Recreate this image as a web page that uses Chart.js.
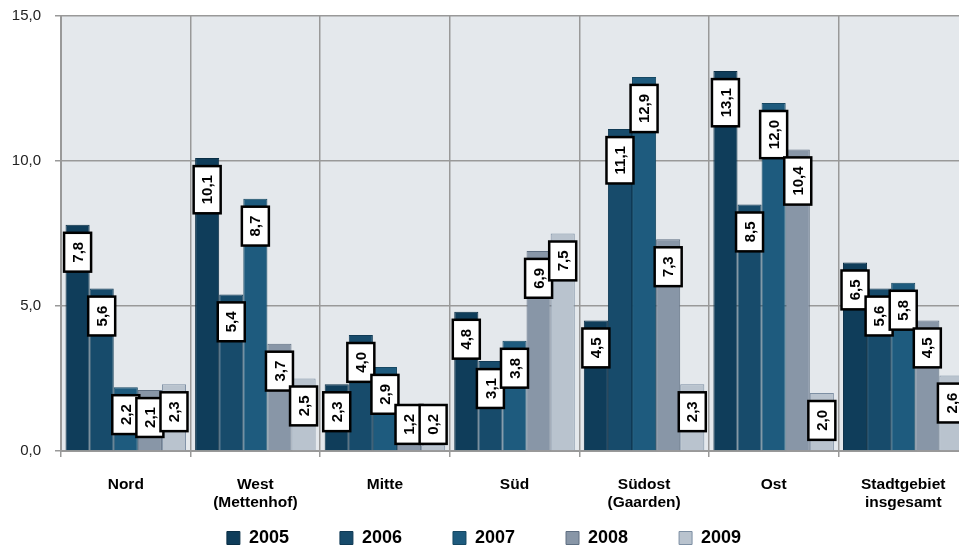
<!DOCTYPE html>
<html>
<head>
<meta charset="utf-8">
<script src="https://cdn.jsdelivr.net/npm/chart.js@4"></script>
<style>
  html,body{margin:0;padding:0;background:#fff;}
  #wrap{width:959px;height:546px;overflow:hidden;}
</style>
</head>
<body>
<div id="wrap"><canvas id="c" width="968" height="557"></canvas></div>
<script>
// --- Daten ---
const categories = [['Nord'], ['West','(Mettenhof)'], ['Mitte'], ['Süd'], ['Südost','(Gaarden)'], ['Ost'], ['Stadtgebiet','insgesamt']];
const years = ['2005','2006','2007','2008','2009'];
const v2005 = [7.8, 10.1, 2.3, 4.8, 4.5, 13.1, 6.5];
const v2006 = [5.6, 5.4, 4.0, 3.1, 11.1, 8.5, 5.6];
const v2007 = [2.2, 8.7, 2.9, 3.8, 12.9, 12.0, 5.8];
const v2008 = [2.1, 3.7, 1.2, 6.9, 7.3, 10.4, 4.5];
const v2009 = [2.3, 2.5, 0.2, 7.5, 2.3, 2.0, 2.6];
const yTicks = [0, 5, 10, 15];

const colors = ['#0f3d5a','#174b6b','#1e5b7e','#8896a7','#b9c3ce'];
const borders = ['#0a2e45','#103a55','#164863','#5f6f82','#7d8fa3'];
const series = [v2005, v2006, v2007, v2008, v2009];

const fmt = v => v.toFixed(1).replace('.', ',');

// Hintergrund der Zeichenfläche
const plotBg = {
  id:'plotBg',
  beforeDraw(chart){
    const {ctx, chartArea:a} = chart;
    ctx.save();
    ctx.fillStyle = '#e4e8ec';
    ctx.fillRect(a.left, a.top, a.right-a.left, a.bottom-a.top);
    ctx.restore();
  }
};

// Wertelabels: weiße Kästchen, Text senkrecht
const boxLabels = {
  id:'boxLabels',
  afterDatasetsDraw(chart){
    const ctx = chart.ctx;
    ctx.save();
    ctx.font = 'bold 15px "Liberation Sans", Arial, sans-serif';
    chart.data.datasets.forEach((ds, di) => {
      chart.getDatasetMeta(di).data.forEach((bar, i) => {
        const txt = fmt(ds.data[i]);
        const tw = ctx.measureText(txt).width;
        const w = 27, h = tw + 18;
        let top = Math.min(bar.y + 8, 405);
        const left = bar.x - w/2;
        ctx.fillStyle = '#fff';
        ctx.fillRect(left, top, w, h);
        ctx.lineWidth = 2.5;
        ctx.strokeStyle = '#000';
        ctx.strokeRect(left, top, w, h);
        ctx.save();
        ctx.translate(bar.x + 1, top + h/2);
        ctx.rotate(-Math.PI/2);
        ctx.fillStyle = '#000';
        ctx.textAlign = 'center';
        ctx.textBaseline = 'middle';
        ctx.fillText(txt, 0, 0);
        ctx.restore();
      });
    });
    ctx.restore();
  }
};

new Chart(document.getElementById('c'), {
  type:'bar',
  data:{
    labels: categories,
    datasets: series.map((d, i) => ({
      label: years[i],
      data: d,
      backgroundColor: colors[i],
      borderColor: borders[i],
      borderWidth: 1,
      categoryPercentage: 0.93,
      barPercentage: 1
    }))
  },
  options:{
    responsive:false,
    animation:false,
    layout:{padding:{top:16, left:0, right:0, bottom:0}},
    plugins:{
      tooltip:{enabled:false},
      legend:{
        position:'bottom',
        labels:{
          boxWidth:13, boxHeight:13, padding:51,
          color:'#000',
          font:{family:'"Liberation Sans", Arial, sans-serif', size:18, weight:'bold'}
        }
      }
    },
    scales:{
      x:{
        grid:{color:'#999', lineWidth:1.5, tickLength:6, offset:true},
        border:{color:'#999', width:2},
        ticks:{
          color:'#000', padding:18, maxRotation:0,
          font:{family:'"Liberation Sans", Arial, sans-serif', size:15.5, weight:'bold', lineHeight:1.2}
        },
        afterFit(s){
          s.height = 27;
          // labels reach below the axis box, so do not clip them
          s._computeLabelArea = () => undefined;
        }
      },
      y:{
        min:0, max:15,
        afterBuildTicks(s){ s.ticks = yTicks.map(v => ({value:v})); },
        grid:{color:'#999', lineWidth:1.5, tickLength:6},
        border:{color:'#999', width:2},
        ticks:{
          color:'#222', padding:14,
          font:{family:'"Liberation Sans", Arial, sans-serif', size:15},
          callback: v => fmt(v)
        },
        afterFit(s){
          s.width = 61;
          s.paddingTop = 0;
          s.paddingBottom = 0;
        }
      }
    }
  },
  plugins:[plotBg, boxLabels]
});
</script>
</body>
</html>
